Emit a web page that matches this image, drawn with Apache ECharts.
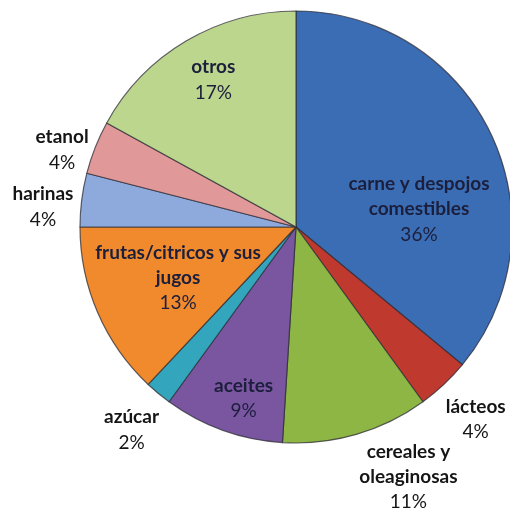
<!DOCTYPE html>
<html>
<head>
<meta charset="utf-8">
<script src="https://cdn.jsdelivr.net/npm/echarts@6/dist/echarts.min.js"></script>
<style>
  html, body { margin: 0; padding: 0; background: #fff; }
  #chart { width: 510px; height: 512px; }
</style>
</head>
<body>
<div id="chart"></div>
<script>
// clockwise from 12 o'clock
const categories = ['carne y despojos\ncomestibles', 'lácteos', 'cereales y\noleaginosas', 'aceites', 'azúcar', 'frutas/citricos y sus\njugos', 'harinas', 'etanol', 'otros']
const values = [36, 4, 11, 9, 2, 13, 4, 4, 17]
const colors = ['#3b6db5', '#c0392f', '#8db644', '#7a55a0', '#33a6bd', '#f08a2c', '#8eaadc', '#e09898', '#bcd68e']
// label spot: [angle from top (deg, clockwise), distance as fraction of radius]
const labelSpots = [[82, 0.575], [137, 1.22], [155.8, 1.27], [197, 0.83], [219, 1.21], [246.6, 0.595], [274.5, 1.175], [288.2, 1.14], [330.6, 0.78]]
const insideLabel = [true, false, false, true, false, true, false, false, true]

const cx = 296
const cy = 227
const R = 216

const chart = echarts.init(document.getElementById('chart'))

chart.setOption({
  animation: false,
  series: [
    {
      type: 'pie',
      center: [cx, cy],
      radius: [0, R],
      startAngle: 90,
      clockwise: true,
      label: {
        show: true,
        position: 'inside',
        fontFamily: 'Lato',
        formatter: (p) => {
          const tag = insideLabel[p.dataIndex] ? 'a' : 'b'
          const lines = p.name.split('\n').map(s => '{' + tag + '|' + s + '}')
          return lines.join('\n') + '\n{' + tag + 'p|' + Math.round(p.percent) + '%}'
        },
        rich: {
          a: { fontFamily: 'Lato', fontSize: 19, fontWeight: 'bold', color: '#1c1f3c', lineHeight: 25, align: 'center' },
          ap: { fontFamily: 'Lato', fontSize: 19, color: '#1c1f3c', lineHeight: 26, align: 'center' },
          b: { fontFamily: 'Lato', fontSize: 19, fontWeight: 'bold', color: '#151515', lineHeight: 25, align: 'center' },
          bp: { fontFamily: 'Lato', fontSize: 19, color: '#151515', lineHeight: 26, align: 'center' }
        }
      },
      labelLine: { show: false },
      labelLayout: (params) => {
        const spot = labelSpots[params.dataIndex]
        const a = spot[0] * Math.PI / 180
        return {
          x: cx + Math.sin(a) * spot[1] * R,
          y: cy - Math.cos(a) * spot[1] * R,
          align: 'center',
          verticalAlign: 'middle'
        }
      },
      itemStyle: {
        borderColor: 'rgba(45,45,55,0.75)',
        borderWidth: 1.2
      },
      emphasis: { disabled: true },
      data: categories.map((name, i) => ({
        name: name,
        value: values[i],
        itemStyle: { color: colors[i] }
      }))
    }
  ]
})
</script>
</body>
</html>
